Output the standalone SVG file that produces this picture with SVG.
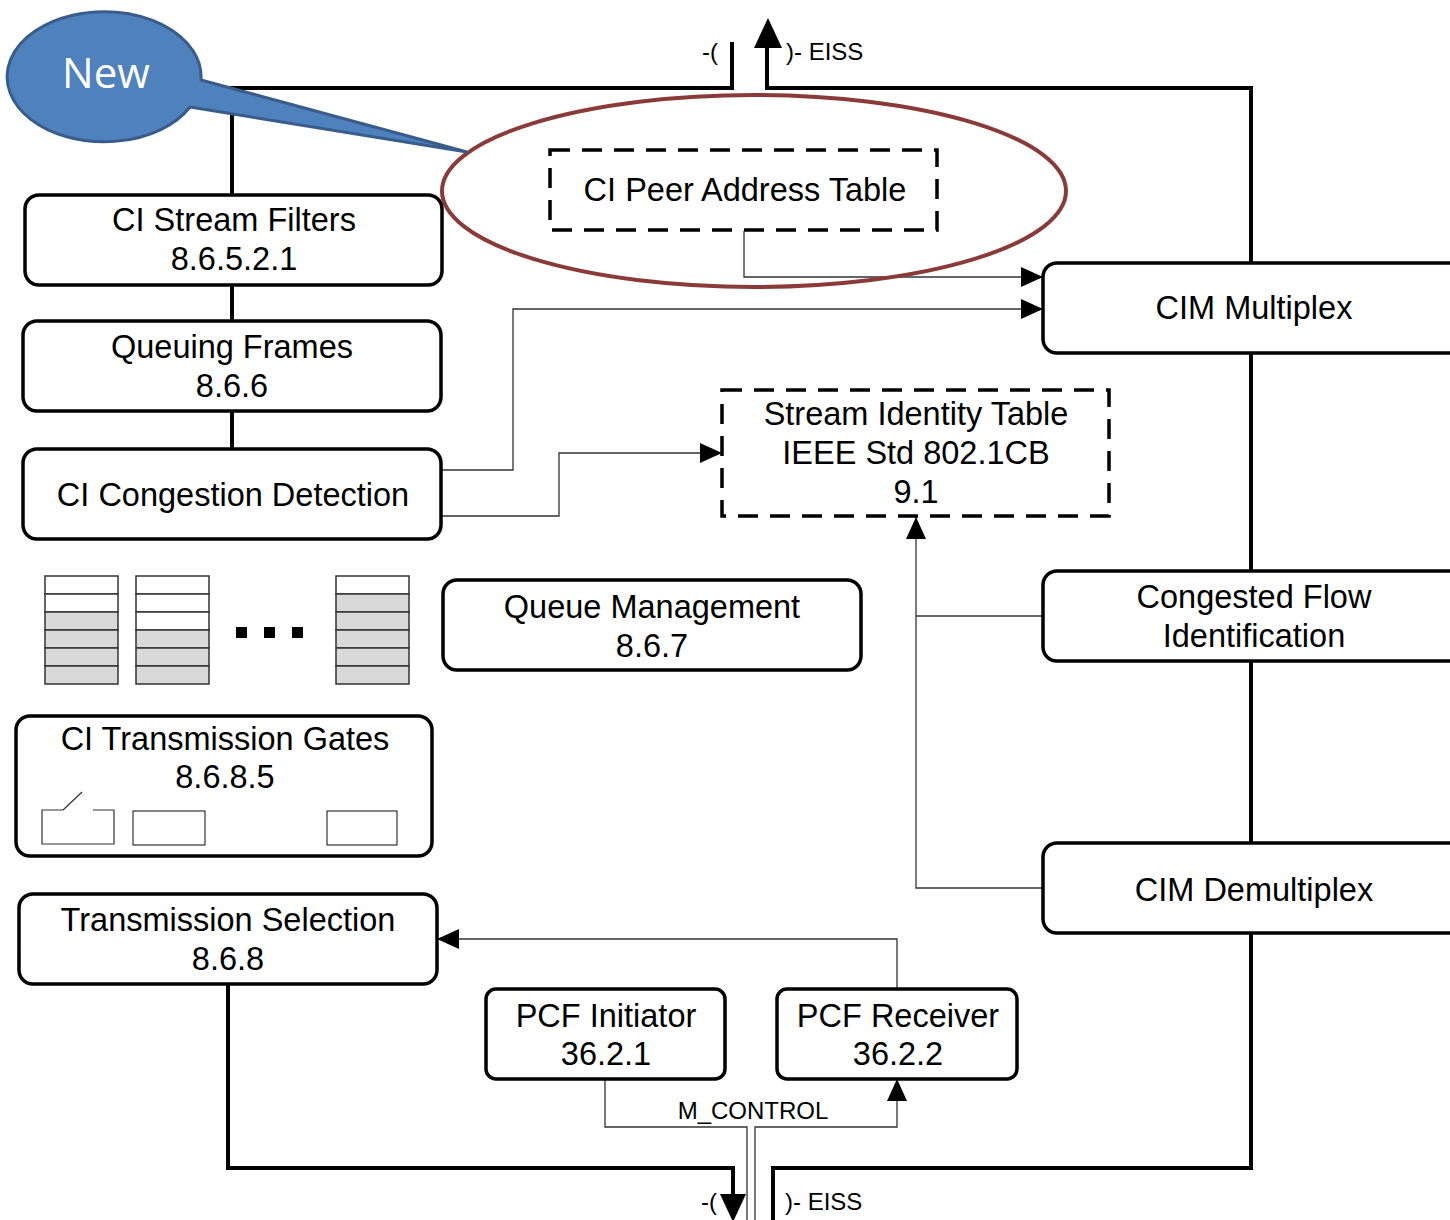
<svg xmlns="http://www.w3.org/2000/svg" width="1450" height="1220" viewBox="0 0 1450 1220">
<defs>
<style>
.box{fill:#fff;stroke:#000;stroke-width:3.5}
.dash{fill:#fff;stroke:#000;stroke-width:3.5;stroke-dasharray:20 12}
.t{font-family:"Liberation Sans",Arial,sans-serif;font-size:32.5px;fill:#000;text-anchor:middle}
.s{font-family:"Liberation Sans",Arial,sans-serif;font-size:24px;fill:#000}
.thick{fill:none;stroke:#000;stroke-width:4}
.thin{fill:none;stroke:#333;stroke-width:1.3}
.q{stroke:#333;stroke-width:1.5}
.w{fill:#fff}
.g{fill:#d9d9d9}
.gate{fill:#fff;stroke:#333;stroke-width:1.2}
</style>
<marker id="ah" viewBox="0 0 11 10" refX="11" refY="5" markerWidth="22" markerHeight="20" markerUnits="userSpaceOnUse" orient="auto">
<path d="M0,0 L11,5 L0,10 Z" fill="#000"/>
</marker>
</defs>
<rect width="1450" height="1220" fill="#fff"/>

<g id="connectors">
<path class="thick" d="M732,42 V88 H232 V195"/>
<path class="thick" d="M232,285 V321 M232,411 V449"/>
<path class="thick" d="M767,44 V88 H1251 V263"/>
<path class="thick" d="M1251,353 V571 M1251,661 V843 M1251,933 V1168 H773 V1220"/>
<path class="thick" d="M228,984 V1168 H733 V1200"/>
<path d="M768,18 L782,48 L754,48 Z" fill="#000"/>
<path d="M733,1222 L746,1194 L720,1194 Z" fill="#000"/>
<path class="thin" d="M744,231 V277 H1043" marker-end="url(#ah)"/>
<path class="thin" d="M441,470 H513 V309 H1043" marker-end="url(#ah)"/>
<path class="thin" d="M441,516 H559 V453 H722" marker-end="url(#ah)"/>
<path class="thin" d="M1043,616 H916"/>
<path class="thin" d="M1043,888 H916 V517" marker-end="url(#ah)"/>
<path class="thin" d="M897,989 V939 H437" marker-end="url(#ah)"/>
<path class="thin" d="M605,1079 V1127 H747 V1220"/>
<path class="thin" d="M755,1220 V1127 H897 V1079" marker-end="url(#ah)"/>
<text class="s" x="702" y="60">-(</text>
<text class="s" x="786" y="60">)- EISS</text>
<text class="s" x="701" y="1210">-(</text>
<text class="s" x="785" y="1210">)- EISS</text>
<text class="s" x="753" y="1119" text-anchor="middle">M_CONTROL</text>
</g>

<g id="ci-stream-filters">
<rect class="box" x="25" y="195" width="417" height="90" rx="14"/>
<text class="t" x="234" y="231">CI Stream Filters</text>
<text class="t" x="234" y="270">8.6.5.2.1</text>
</g>
<g id="queuing-frames">
<rect class="box" x="23" y="321" width="418" height="90" rx="14"/>
<text class="t" x="232" y="358">Queuing Frames</text>
<text class="t" x="232" y="397">8.6.6</text>
</g>
<g id="ci-congestion-detection">
<rect class="box" x="23" y="449" width="418" height="90" rx="14"/>
<text class="t" x="233" y="506">CI Congestion Detection</text>
</g>

<g id="queues">
<rect class="q w" x="45" y="576" width="73" height="18"/>
<rect class="q w" x="45" y="594" width="73" height="18"/>
<rect class="q g" x="45" y="612" width="73" height="18"/>
<rect class="q g" x="45" y="630" width="73" height="18"/>
<rect class="q g" x="45" y="648" width="73" height="18"/>
<rect class="q g" x="45" y="666" width="73" height="18"/>
<rect class="q w" x="136" y="576" width="73" height="18"/>
<rect class="q w" x="136" y="594" width="73" height="18"/>
<rect class="q w" x="136" y="612" width="73" height="18"/>
<rect class="q g" x="136" y="630" width="73" height="18"/>
<rect class="q g" x="136" y="648" width="73" height="18"/>
<rect class="q g" x="136" y="666" width="73" height="18"/>
<rect class="q w" x="336" y="576" width="73" height="18"/>
<rect class="q g" x="336" y="594" width="73" height="18"/>
<rect class="q g" x="336" y="612" width="73" height="18"/>
<rect class="q g" x="336" y="630" width="73" height="18"/>
<rect class="q g" x="336" y="648" width="73" height="18"/>
<rect class="q g" x="336" y="666" width="73" height="18"/>
<rect x="236" y="627" width="11" height="11" fill="#000"/>
<rect x="264" y="627" width="11" height="11" fill="#000"/>
<rect x="292" y="627" width="11" height="11" fill="#000"/>
</g>

<g id="queue-management">
<rect class="box" x="443" y="580" width="418" height="90" rx="14"/>
<text class="t" x="652" y="618">Queue Management</text>
<text class="t" x="652" y="657">8.6.7</text>
</g>

<g id="ci-transmission-gates">
<rect class="box" x="16" y="716" width="416" height="140" rx="14"/>
<text class="t" x="225" y="750">CI Transmission Gates</text>
<text class="t" x="225" y="788">8.6.8.5</text>
<path class="gate" d="M63,810 H42 V844 H114 V810 H93"/>
<path class="gate" d="M63,810 L82,792"/>
<rect class="gate" x="133" y="811" width="72" height="34"/>
<rect class="gate" x="327" y="811" width="70" height="34"/>
</g>

<g id="transmission-selection">
<rect class="box" x="19" y="894" width="418" height="90" rx="14"/>
<text class="t" x="228" y="931">Transmission Selection</text>
<text class="t" x="228" y="970">8.6.8</text>
</g>

<g id="pcf-initiator">
<rect class="box" x="486" y="989" width="239" height="90" rx="10"/>
<text class="t" x="606" y="1027">PCF Initiator</text>
<text class="t" x="606" y="1065">36.2.1</text>
</g>
<g id="pcf-receiver">
<rect class="box" x="777" y="989" width="240" height="90" rx="10"/>
<text class="t" x="898" y="1027">PCF Receiver</text>
<text class="t" x="898" y="1065">36.2.2</text>
</g>

<g id="cim-multiplex">
<rect class="box" x="1043" y="263" width="420" height="90" rx="14"/>
<text class="t" x="1254" y="319">CIM Multiplex</text>
</g>
<g id="congested-flow">
<rect class="box" x="1043" y="571" width="420" height="90" rx="14"/>
<text class="t" x="1254" y="608">Congested Flow</text>
<text class="t" x="1254" y="647">Identification</text>
</g>
<g id="cim-demultiplex">
<rect class="box" x="1043" y="843" width="420" height="90" rx="14"/>
<text class="t" x="1254" y="901">CIM Demultiplex</text>
</g>

<g id="stream-identity-table">
<rect class="dash" x="722" y="390" width="387" height="126"/>
<text class="t" x="916" y="425">Stream Identity Table</text>
<text class="t" x="916" y="464">IEEE Std 802.1CB</text>
<text class="t" x="916" y="503">9.1</text>
</g>

<g id="ci-peer-address-table">
<rect class="dash" x="550" y="150" width="387" height="80"/>
<text class="t" x="745" y="201">CI Peer Address Table</text>
</g>

<g id="highlight">
<ellipse cx="754" cy="191" rx="312" ry="96" fill="none" stroke="#8b3a3a" stroke-width="4"/>
</g>

<g id="new-callout">
<path d="M467,152 L201,80 A97,65 0 1,0 190,107 Z" fill="#4f81bd" stroke="#385d8a" stroke-width="3" stroke-linejoin="round"/>
<text x="106" y="88" font-family="'Open Sans','Noto Sans',sans-serif" font-size="42" fill="#fff" text-anchor="middle">New</text>
</g>
</svg>
